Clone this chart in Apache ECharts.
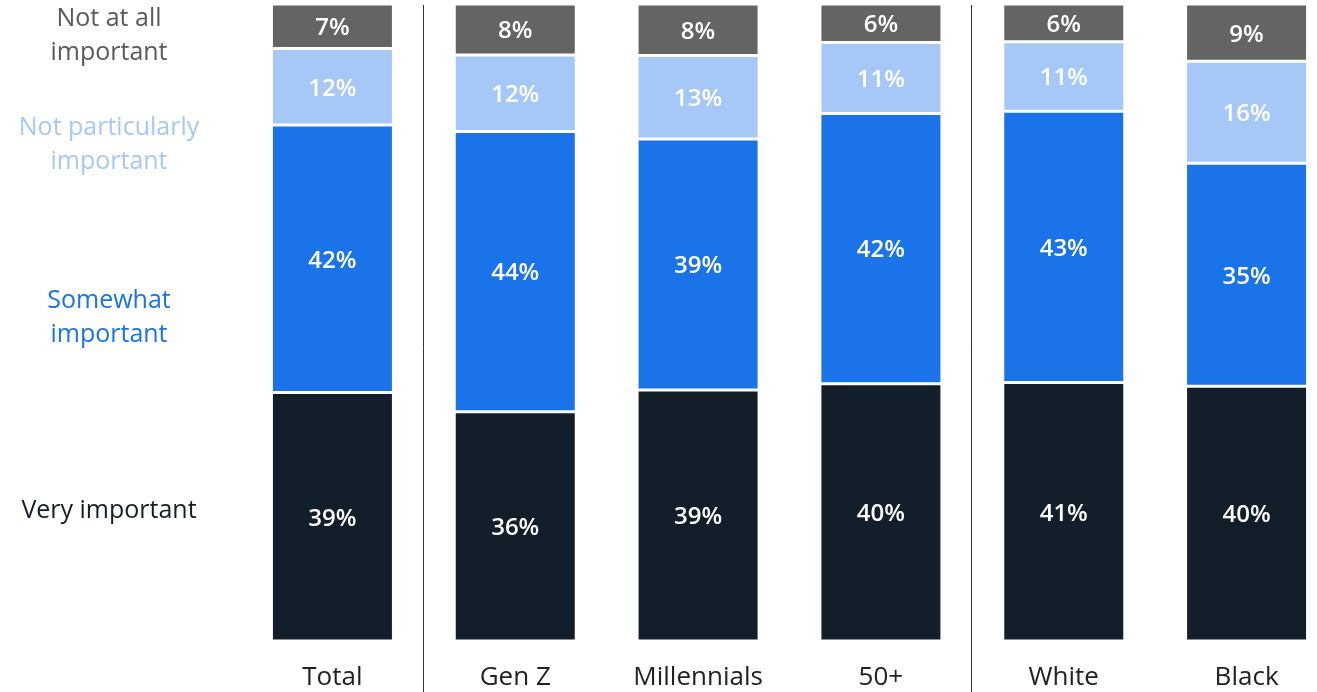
<!DOCTYPE html>
<html>
<head>
<meta charset="utf-8">
<script src="https://cdn.jsdelivr.net/npm/echarts@6/dist/echarts.min.js"></script>
<style>
  html, body { margin: 0; padding: 0; background: #fff; }
  #chart { width: 1317px; height: 692px; }
</style>
</head>
<body>
<div id="chart"></div>
<script>
  // categories and shares (%) per answer
  const groups = ['Total', 'Gen Z', 'Millennials', '50+', 'White', 'Black'];
  const veryImportant = [39, 36, 39, 40, 41, 40];
  const somewhatImportant = [42, 44, 39, 42, 43, 35];
  const notParticularly = [12, 12, 13, 11, 11, 16];
  const notAtAll = [7, 8, 8, 6, 6, 9];

  const seriesNames = ['Very important', 'Somewhat important', 'Not particularly important', 'Not at all important'];
  const seriesColors = ['#131e2b', '#1a73e8', '#a6c8f7', '#646464'];
  const legendColors = ['#131e2b', '#1a73e8', '#a6c8f7', '#5a5a5a'];
  const legendText = ['Very important', 'Somewhat\nimportant', 'Not particularly\nimportant', 'Not at all\nimportant'];
  const legendY = [511, 318, 145, 36];

  const raw = [veryImportant, somewhatImportant, notParticularly, notAtAll];
  // bars are drawn as full 100% columns
  const totals = groups.map((g, i) => raw.reduce((s, arr) => s + arr[i], 0));

  const FONT = '"Open Sans", "Liberation Sans", Arial, sans-serif';

  const chart = echarts.init(document.getElementById('chart'));
  chart.setOption({
    animation: false,
    textStyle: { fontFamily: FONT },
    grid: { left: 241, top: 4, width: 1097, bottom: 51, outerBoundsMode: 'none', containLabel: false },
    xAxis: {
      type: 'category',
      data: groups,
      axisLine: { show: false },
      axisTick: { show: false },
      axisLabel: { color: '#222', fontSize: 26, margin: 24, fontFamily: FONT }
    },
    yAxis: { type: 'value', min: 0, max: 100, show: false },
    series: raw.map((arr, k) => ({
      name: seriesNames[k],
      type: 'bar',
      stack: 'all',
      barWidth: 122,
      data: arr.map((v, i) => v / totals[i] * 100),
      itemStyle: { color: seriesColors[k], borderColor: '#fff', borderWidth: 1.5 },
      label: {
        show: true,
        position: 'inside',
        offset: [0, 2],
        color: '#fff',
        fontSize: 24,
        fontWeight: 600,
        fontFamily: FONT,
        formatter: p => raw[k][p.dataIndex] + '%'
      }
    }))
  });

  // left-hand labels for the answers
  const labels = legendText.map((t, k) => ({
    type: 'text',
    x: 109,
    y: legendY[k],
    style: {
      text: t,
      fill: legendColors[k],
      font: '25px ' + FONT,
      align: 'center',
      verticalAlign: 'middle',
      lineHeight: 34
    }
  }));

  // group separators between Total | age groups | race groups
  const sepAfter = [0, 3];
  const px = i => chart.convertToPixel({ xAxisIndex: 0 }, i);
  const bandHalf = (px(1) - px(0)) / 2;
  const seps = sepAfter.map(i => {
    const x = Math.round(px(i) + bandHalf) - 0.5;
    return { type: 'line', shape: { x1: x, y1: 5, x2: x, y2: 692 }, style: { stroke: '#333', lineWidth: 1 } };
  });
  chart.setOption({ graphic: labels.concat(seps) });
</script>
</body>
</html>
